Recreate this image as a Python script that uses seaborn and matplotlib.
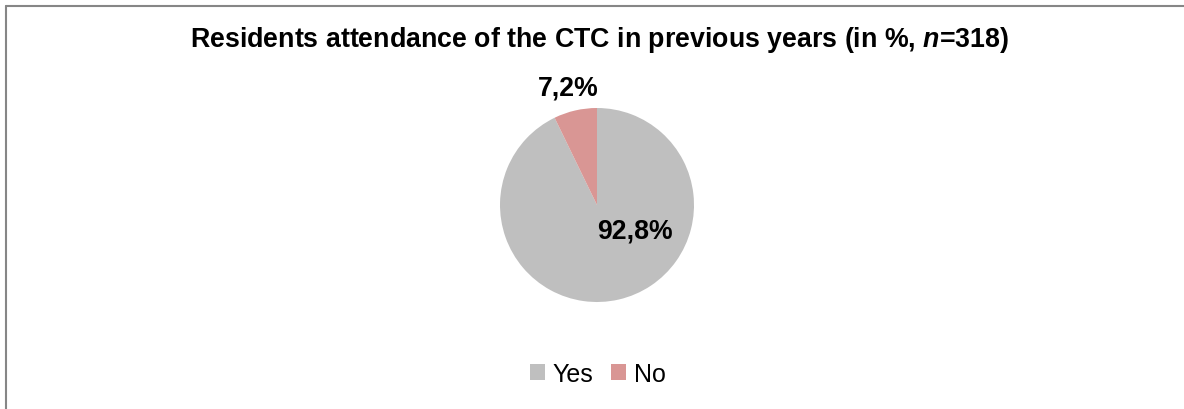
import matplotlib
matplotlib.use("Agg")
import matplotlib.pyplot as plt
import seaborn as sns
from matplotlib.lines import Line2D
from matplotlib.patches import Patch

categories = ["Yes", "No"]
values = [92.8, 7.2]
value_labels = ["92,8%", "7,2%"]
colors = ["#BFBFBF", "#D99694"]
title = "Residents attendance of the CTC in previous years (in %, $\\mathbfit{n}$=318)"

sns.set_theme(style="white")
plt.rcParams['font.family'] = ['Liberation Sans', 'DejaVu Sans']
plt.rcParams['mathtext.fontset'] = 'custom'
plt.rcParams['mathtext.bfit'] = 'Liberation Sans:bold:italic'
plt.rcParams['text.color'] = 'black'

W, H = 1184, 410
fig = plt.figure(figsize=(W / 100, H / 100), dpi=100)
fig.patch.set_facecolor("white")

# frame lines (top and left visible)
fig.add_artist(Line2D([5.5 / W, 1], [1 - 6.5 / H, 1 - 6.5 / H], color="#868686", lw=1.5, transform=fig.transFigure))
fig.add_artist(Line2D([5.5 / W, 5.5 / W], [0, 1 - 6.5 / H], color="#868686", lw=1.5, transform=fig.transFigure))

cx, cy, r = 597, 206, 97
ax = fig.add_axes([(cx - r) / W, (H - cy - r) / H, 2 * r / W, 2 * r / H])
ax.pie(values, colors=colors, startangle=90, counterclock=False,
       wedgeprops=dict(linewidth=0))
ax.set_xlim(-1, 1)
ax.set_ylim(-1, 1)
ax.set_aspect("equal")
ax.axis("off")

ax.text(0.39, -0.26, value_labels[0], ha="center", va="center", fontsize=19.2,
        fontweight="bold", color="black")
ax.text(-0.30, 1.21, value_labels[1], ha="center", va="center", fontsize=19.2,
        fontweight="bold", color="black", clip_on=False)

fig.text(600 / W, 1 - 40 / H, title, ha="center", va="center", fontsize=19.3,
         fontweight="bold", color="black")

handles = [Patch(facecolor=c, edgecolor="none") for c in colors]
leg = fig.legend(handles, categories, loc="center", bbox_to_anchor=(598 / W, 1 - 375 / H),
                 ncol=2, frameon=False, fontsize=18, handlelength=0.6, handleheight=0.6,
                 handletextpad=0.3, columnspacing=0.7)
for t in leg.get_texts():
    t.set_color("black")

fig.savefig("out.png", dpi=100)
